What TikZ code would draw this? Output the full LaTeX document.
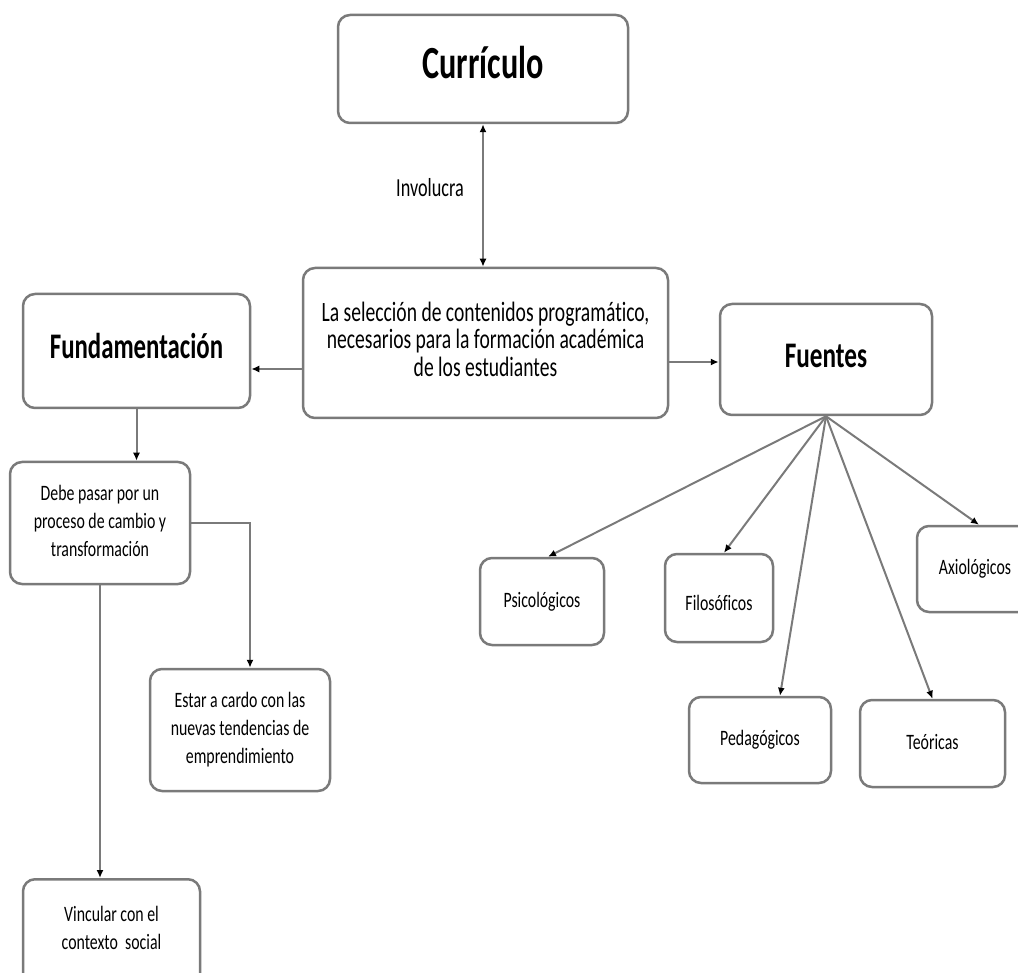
\documentclass[tikz,border=0pt]{standalone}
\usepackage{fontspec}
\setmainfont[Ligatures=NoCommon]{Carlito}
\usepackage{graphicx}
\usetikzlibrary{arrows.meta,calc}
\definecolor{boxgray}{HTML}{7A7A7A}
\definecolor{linegray}{HTML}{7A7A7A}
\newcommand\sq[2]{\scalebox{#1}[1]{\begin{tabular}{@{}c@{}}#2\end{tabular}}}
\tikzset{
  box/.style={draw=boxgray, line width=2.5pt, rounded corners=12pt, inner sep=0pt, fill=white, text=black},
  sz/.style 2 args={minimum width=#1pt, minimum height=#2pt},
  arr/.style={draw=linegray, line width=2pt, -{Latex[length=8pt,width=7pt,color=black]}},
  biarr/.style={draw=linegray, line width=2pt, {Latex[length=8pt,width=7pt,color=black]}-{Latex[length=8pt,width=7pt,color=black]}},
  huge/.style={font=\fontsize{46}{50}\selectfont\bfseries},
  large/.style={font=\fontsize{36}{40}\selectfont\bfseries},
  mid/.style={font=\fontsize{28}{26.5}\selectfont},
  small/.style={font=\fontsize{22}{28}\selectfont},
  lbl/.style={font=\fontsize{26}{28}\selectfont, text=black, inner sep=0pt}
}
\begin{document}
\begin{tikzpicture}[x=1pt,y=-1pt]
\useasboundingbox (0,0) rectangle (1018,973);
\clip (0,0) rectangle (1018,973);
% boxes
\node[box, huge, sz={290}{108}] (cur) at (483,69) {\sq{0.7}{Currículo}};
\node[box, mid, sz={365}{150}] (sel) at (485.5,343) {\sq{0.7}{La selección de contenidos programático,\\necesarios para la formación académica\\de los estudiantes}};
\node[box, large, sz={227}{114}] (fund) at (136.5,351) {\sq{0.69}{Fundamentación}};
\node[box, large, sz={212}{111}] (fue) at (826,359.5) {\sq{0.7}{Fuentes}};
\node[box, small, sz={180}{122}] (debe) at (100,523) {\sq{0.72}{Debe pasar por un\\proceso de cambio y\\transformación}};
\node[box, small, sz={180}{122}] (estar) at (240,730) {\sq{0.72}{Estar a cardo con las\\nuevas tendencias de\\emprendimiento}};
\node[box, small, sz={177}{122}, anchor=north] (vinc) at (111.5,878) {};
\node[small, text=black, inner sep=0pt] (vinct) at (111.5,930) {\sq{0.72}{Vincular con el\\contexto\ \ social}};
\node[box, small, sz={124}{87}] (psi) at (542,601.5) {\sq{0.72}{Psicológicos}};
\node[box, small, sz={108}{88}] (fil) at (719,598) {};
\node[small, text=black, inner sep=0pt] (filt) at (719,605) {\sq{0.72}{Filosóficos}};
\node[box, small, sz={116}{86}] (axi) at (975,569) {\sq{0.72}{Axiológicos}};
\node[box, small, sz={142}{86}] (ped) at (760,740) {\sq{0.72}{Pedagógicos}};
\node[box, small, sz={145}{87}] (teo) at (932.5,743.5) {\sq{0.72}{Teóricas}};
% label
\node[lbl] (inv) at (430,191) {\sq{0.7}{Involucra}};
% connectors
\draw[biarr] (cur.south) -- (cur.south |- sel.north);
\draw[arr] ([yshift=-26pt]sel.west) -- ([yshift=-26pt]sel.west -| fund.east);
\draw[arr] ([yshift=-19pt]sel.east) -- ([yshift=-19pt]sel.east -| fue.west);
\draw[arr] (fund.south) -- (fund.south |- debe.north);
\draw[arr] (debe.east) -| ([xshift=10pt]estar.north);
\draw[arr] (debe.south) -- (debe.south |- vinc.north);
\draw[arr] (fue.south) -- ([xshift=6pt]psi.north);
\draw[arr] (fue.south) -- ([xshift=5pt]fil.north);
\draw[arr] (fue.south) -- ([xshift=4pt]axi.north);
\draw[arr] (fue.south) -- ([xshift=20pt]ped.north);
\draw[arr] (fue.south) -- (teo.north);
\end{tikzpicture}
\end{document}
